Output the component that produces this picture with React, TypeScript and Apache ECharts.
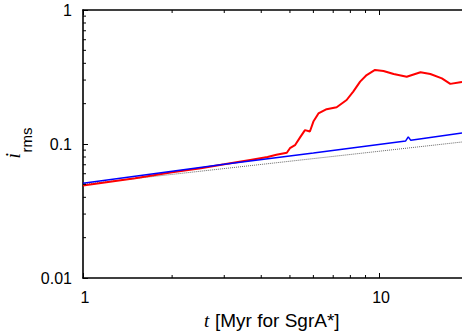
import React, { useEffect, useRef } from "react";
import * as echarts from "echarts";

// ---- data ----
const redT = [1, 1.5, 2, 2.5, 3, 3.67, 4.2, 4.5, 4.88, 5.0, 5.2, 5.41, 5.62, 5.84, 6.0, 6.24, 6.65, 7.19, 7.77, 8.18, 8.63, 9.08, 9.69, 10.35, 11.2, 12.4, 13.8, 14.9, 16.3, 17.4, 18.8, 19.06];
const redV = [0.049, 0.0555, 0.0615, 0.066, 0.0705, 0.076, 0.080, 0.083, 0.086, 0.093, 0.098, 0.112, 0.127, 0.124, 0.147, 0.169, 0.182, 0.188, 0.213, 0.246, 0.292, 0.327, 0.357, 0.351, 0.333, 0.318, 0.343, 0.333, 0.309, 0.281, 0.289, 0.29];

const blueT = [1, 3, 6, 12.3, 12.55, 12.8, 19.06];
const blueV = [0.051, 0.0705, 0.0855, 0.1055, 0.113, 0.1065, 0.121];

const refT = [1, 19.06];
const refV = [0.05, 0.1035];

const xMinorTicks = [2, 3, 4, 5, 6, 7, 8, 9];
const yMinorTicks = [0.02, 0.03, 0.04, 0.05, 0.06, 0.07, 0.08, 0.09, 0.2, 0.3, 0.4, 0.5, 0.6, 0.7, 0.8, 0.9];

const xMin = 1;
const xMax = 19.06;
const yMin = 0.01;
const yMax = 1;

const SANS = "'Liberation Sans', Arial, sans-serif";
const SERIF = "'Liberation Serif', 'Times New Roman', serif";

const decadeLabel = (v: number) => {
  const l = Math.log10(v);
  return Math.abs(l - Math.round(l)) < 1e-6 ? String(v) : "";
};

export default function App() {
  const ref = useRef<HTMLDivElement>(null);

  useEffect(() => {
    if (!ref.current) return;
    const chart = echarts.init(ref.current, undefined, { renderer: "svg" });

    const pair = (ts: number[], vs: number[]) => ts.map((t, i) => [t, vs[i]]);

    const tickStyle = { stroke: "#000", lineWidth: 1 };

    const option: any = {
      animation: false,
      backgroundColor: "#fff",
      grid: { left: 83, right: 0, top: 10, bottom: 53, containLabel: false, outerBoundsMode: "none" },
      xAxis: [
        {
          type: "log",
          logBase: 10,
          min: xMin,
          max: xMax,
          position: "bottom",
          axisLine: { show: true, lineStyle: { color: "#000", width: 1.6 } },
          axisTick: { show: true, inside: true, length: 5, lineStyle: { color: "#000", width: 1 } },
          axisLabel: {
            show: true,
            margin: 11,
            fontFamily: SANS,
            fontSize: 16,
            color: "#000",
            showMaxLabel: false,
            padding: [0, 0, 0, 4],
            formatter: decadeLabel,
          },
          splitLine: { show: false },
        },
        {
          type: "log",
          logBase: 10,
          min: xMin,
          max: xMax,
          position: "top",
          axisLine: { show: true, onZero: false, lineStyle: { color: "#000", width: 1.6 } },
          axisTick: { show: true, inside: true, length: 5, lineStyle: { color: "#000", width: 1 } },
          axisLabel: { show: false },
          splitLine: { show: false },
        },
      ],
      yAxis: {
        type: "log",
        logBase: 10,
        min: yMin,
        max: yMax,
        axisLine: { show: true, lineStyle: { color: "#000", width: 1.6 } },
        axisTick: { show: true, inside: true, length: 5, lineStyle: { color: "#000", width: 1 } },
        axisLabel: {
          show: true,
          margin: 11,
          fontFamily: SANS,
          fontSize: 16,
          color: "#000",
          formatter: decadeLabel,
        },
        splitLine: { show: false },
      },
      series: [
        {
          type: "line",
          data: pair(refT, refV),
          showSymbol: false,
          symbol: "none",
          lineStyle: { color: "#666", width: 1, type: "dotted" },
          z: 2,
        },
        {
          type: "line",
          data: pair(redT, redV),
          showSymbol: false,
          symbol: "none",
          lineStyle: { color: "#ff0000", width: 2 },
          z: 3,
        },
        {
          type: "line",
          data: pair(blueT, blueV),
          showSymbol: false,
          symbol: "none",
          lineStyle: { color: "#0000ff", width: 1.5 },
          z: 4,
        },
        {
          type: "custom",
          silent: true,
          z: 10,
          data: xMinorTicks.map((t) => [t, yMin]),
          renderItem: (params: any, api: any) => {
            const p = api.coord([api.value(0), api.value(1)]);
            const cs = params.coordSys;
            const yb = cs.y + cs.height;
            return {
              type: "group",
              children: [
                { type: "line", shape: { x1: p[0], y1: yb, x2: p[0], y2: yb - 3 }, style: tickStyle },
                { type: "line", shape: { x1: p[0], y1: cs.y, x2: p[0], y2: cs.y + 3 }, style: tickStyle },
              ],
            };
          },
        },
        {
          type: "custom",
          silent: true,
          z: 10,
          data: yMinorTicks.map((v) => [xMin, v]),
          renderItem: (params: any, api: any) => {
            const p = api.coord([api.value(0), api.value(1)]);
            const cs = params.coordSys;
            return {
              type: "line",
              shape: { x1: cs.x, y1: p[1], x2: cs.x + 3, y2: p[1] },
              style: tickStyle,
            };
          },
        },
      ],
      graphic: [
        {
          type: "text",
          x: 13.3,
          y: 158.5,
          rotation: Math.PI / 2,
          style: { text: "i", font: `italic 20px ${SERIF}`, fill: "#000", align: "left", verticalAlign: "middle" },
        },
        {
          type: "text",
          x: 26.8,
          y: 152.5,
          rotation: Math.PI / 2,
          style: { text: "rms", font: `15px ${SANS}`, fill: "#000", align: "left", verticalAlign: "middle" },
        },
        {
          type: "text",
          x: 204,
          y: 320,
          style: { text: "t", font: `italic 19px ${SERIF}`, fill: "#000", align: "left", verticalAlign: "middle" },
        },
        {
          type: "text",
          x: 215,
          y: 320,
          style: { text: "[Myr for SgrA*]", font: `19px ${SANS}`, fill: "#000", align: "left", verticalAlign: "middle" },
        },
      ],
    };

    chart.setOption(option);
    return () => chart.dispose();
  }, []);

  return (
    <div
      ref={ref}
      style={{ position: "fixed", left: 0, top: 0, width: 462, height: 331, background: "#fff" }}
    />
  );
}
